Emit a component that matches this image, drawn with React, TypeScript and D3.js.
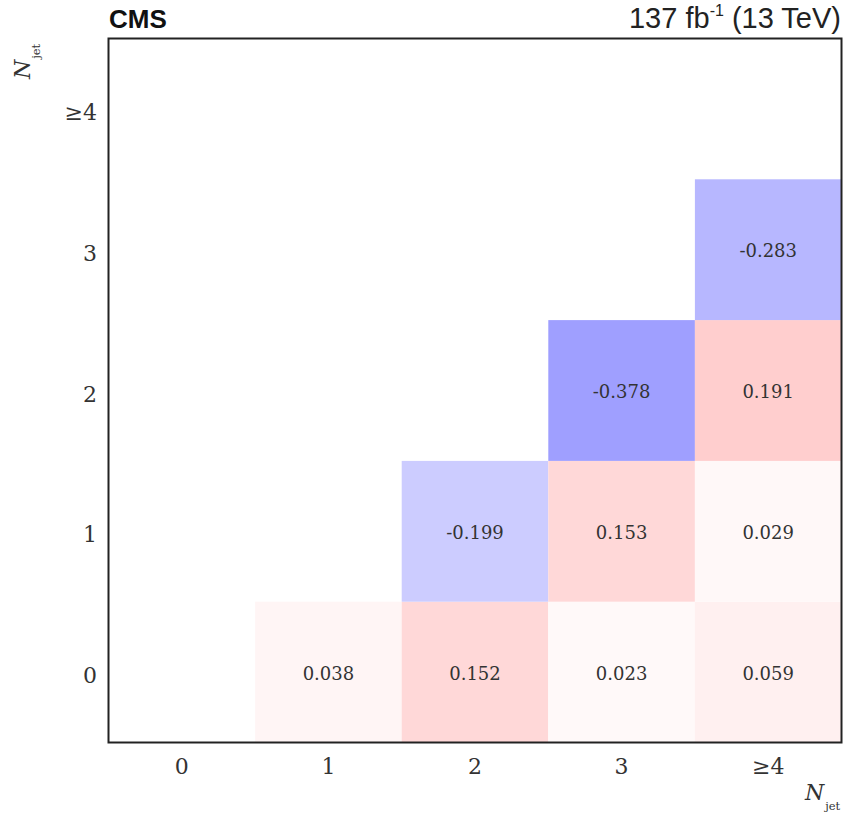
import React from "react";
import * as d3 from "d3";

const categories = ["0", "1", "2", "3", "\u22654"];
const cellX = [1, 2, 3, 4, 2, 3, 4, 3, 4, 4];
const cellY = [0, 0, 0, 0, 1, 1, 1, 2, 2, 3];
const cellValues = [0.038, 0.152, 0.023, 0.059, -0.199, 0.153, 0.029, -0.378, 0.191, -0.283];

const W = 846, H = 816;
const M = { left: 108.5, right: 841.5, top: 38.5, bottom: 742.5 };

export default function App() {
  const x = d3.scaleBand<string>().domain(categories).range([M.left, M.right]).padding(0);
  const y = d3.scaleBand<string>().domain(categories).range([M.bottom, M.top]).padding(0);
  const color = d3.scaleLinear<string>().domain([-1, 0, 1]).range(["#0000ff", "#ffffff", "#ff0000"]).clamp(true);
  const serif = "'DejaVu Serif', 'Liberation Serif', serif";
  const sans = "'Liberation Sans', Arial, sans-serif";
  return (
    <svg width={W} height={H} style={{ position: "absolute", left: 0, top: 0, background: "#fff" }}>
      <rect x={0} y={0} width={W} height={H} fill="#fff" />
      {cellValues.map((v, i) => {
        const cx = categories[cellX[i]], cy = categories[cellY[i]];
        const x0 = x(cx)!, y0 = y(cy)!;
        return (
          <g key={i}>
            <rect x={x0} y={y0} width={x.bandwidth()} height={y.bandwidth()} fill={color(v)} />
            <text x={x0 + x.bandwidth() / 2} y={y0 + y.bandwidth() / 2 + 7.5} textAnchor="middle"
              fontFamily={serif} fontSize={18} fill="#333">{v.toFixed(3)}</text>
          </g>
        );
      })}
      <rect x={M.left} y={M.top} width={M.right - M.left} height={M.bottom - M.top} fill="none" stroke="#222" strokeWidth={2} />
      {categories.map((c) => (
        <text key={"x" + c} x={x(c)! + x.bandwidth() / 2} y={774} textAnchor="middle" fontFamily={serif} fontSize={22} fill="#333">{c}</text>
      ))}
      {categories.map((c) => (
        <text key={"y" + c} x={97} y={y(c)! + y.bandwidth() / 2 + 11} textAnchor="end" fontFamily={serif} fontSize={22} fill="#333">{c}</text>
      ))}
      <text x={805} y={800} fontFamily={serif} fontStyle="italic" fontSize={22} fill="#333">N<tspan fontSize={11.5} fontStyle="normal" dx={1} dy={10}>jet</tspan></text>
      <g transform="translate(30,79) rotate(-90)">
        <text x={0} y={0} fontFamily={serif} fontStyle="italic" fontSize={22} fill="#333">N<tspan fontSize={11.5} fontStyle="normal" dx={1} dy={10}>jet</tspan></text>
      </g>
      <text x={109} y={28} fontFamily={sans} fontWeight="bold" fontSize={26} fill="#111">CMS</text>
      <text x={841} y={28} textAnchor="end" fontFamily={sans} fontSize={29} fill="#222">
        137 fb<tspan fontSize={16} dy={-12}>-1</tspan><tspan dy={12}> (13 TeV)</tspan>
      </text>
    </svg>
  );
}
